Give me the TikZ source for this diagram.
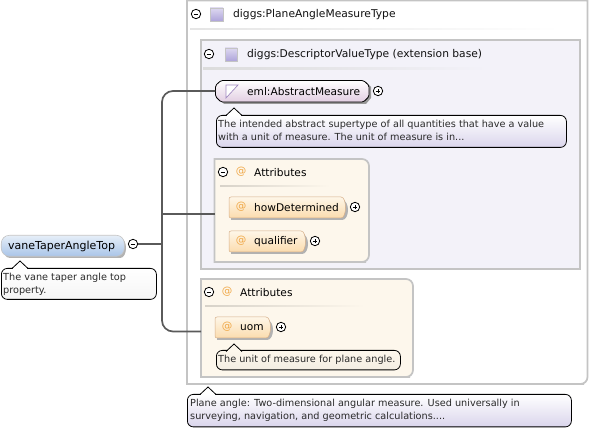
\documentclass[tikz,border=0pt]{standalone}
\usepackage{fontspec}
\setmainfont{DejaVu Sans}
\usetikzlibrary{calc}
\definecolor{frameg}{HTML}{C4C4C4}
\definecolor{conn}{HTML}{5A5A5A}
\definecolor{typefill}{HTML}{F3F2F9}
\definecolor{attrfill}{HTML}{FDF7EC}
\definecolor{ink}{HTML}{111111}
\definecolor{notetext}{HTML}{2A2A2A}
\definecolor{ato}{HTML}{F0A848}
\definecolor{lav}{HTML}{DAD5EC}
\definecolor{sqtop}{HTML}{DDD8F0}
\definecolor{sqlow}{HTML}{AEA4DA}
\definecolor{pilllow}{HTML}{FBDCAE}
\definecolor{pilltop}{HTML}{FEF6E8}
\definecolor{abslow}{HTML}{E2CEE2}
\definecolor{roottop}{HTML}{E6EEF8}
\definecolor{rootlow}{HTML}{A9C4E8}
\definecolor{iconv}{HTML}{A088C0}
\tikzset{
  frame/.style={draw=frameg,line width=1.7pt},
  lbl/.style={font=\fontsize{10.7}{12}\selectfont,text=ink,inner sep=0pt,anchor=west,yshift=-1pt},
  lblb/.style={font=\fontsize{10.6}{12}\selectfont,text=black,inner sep=0pt,anchor=west,yshift=-1pt},
  note/.style={font=\fontsize{9.7}{13.4}\selectfont,text=notetext,inner sep=0pt,anchor=north west,align=left},
  tog/.style={circle,draw=black,line width=0.8pt,fill=white,minimum size=9.4pt,inner sep=0pt},
  atsign/.style={font=\fontsize{10.5}{12}\selectfont,text=ato,inner sep=0pt},
  sq/.style={draw=frameg,line width=0.6pt,top color=sqtop,bottom color=sqlow},
  notebox/.style={draw=black,line width=0.8pt,rounded corners=6pt},
  wire/.style={draw=conn,line width=1.7pt},
}
\newcommand{\togglemark}[2]{\draw[black,line width=0.7pt] ($(#1)+(-2.4pt,0)$) -- ($(#1)+(2.4pt,0)$);
  \ifnum#2=1 \draw[black,line width=0.7pt] ($(#1)+(0,-2.4pt)$) -- ($(#1)+(0,2.4pt)$);\fi}
\newcommand{\pill}[4]{% x1 x2 ytop ybottom: orange attribute pill
  \fill[black!30] (#1+2,#3+3) -- (#2-5,#3+3) .. controls (#2+3,#3+3) and (#2+3,#4+2) .. (#2-5,#4+2) -- (#1+2,#4+2) -- cycle;
  \shade[top color=pilltop,bottom color=pilllow,draw=frameg!70!orange,line width=0.5pt,rounded corners=2pt]
   (#1,#3) -- (#2-8,#3) .. controls (#2,#3) and (#2,#4) .. (#2-8,#4) -- (#1,#4) -- cycle;}
\newcommand{\ptr}[3]{% x, y of pointer tip, colour under it: callout pointer
  \fill[#3] (#1-8,#2+8.5) -- (#1,#2) -- (#1+8,#2+8.5) -- cycle;
  \draw[black,line width=0.8pt] (#1-8,#2+7.5) -- (#1,#2) -- (#1+8,#2+7.5);}
\newcommand{\groupbox}[5]{% x1 y1 x2 y2 fill: left corners square, right corners rounded
  \path[frame,draw,fill=#5] (#1,#2) [rounded corners=7pt] -- (#3,#2) -- (#3,#4) -- (#3-10,#4) [sharp corners] -- (#1,#4) -- cycle;}
\begin{document}
\begin{tikzpicture}[x=1pt,y=-1pt]
\useasboundingbox (0,0) rectangle (590,430);
\fill[white] (0,0) rectangle (590,430);

% outer type frame
\path[frame,draw,fill=white] (187,0.5) -- (587.5,0.5) [rounded corners=7pt] -- (587.5,384) -- (577,384) [sharp corners] -- (187,384) -- cycle;
\fill[left color=frameg!45,right color=white] (190,28.5) rectangle (560,30);
\node[tog] (t0) at (196,14) {}; \togglemark{t0}{0}
\draw[sq] (210,8) rectangle (223,21);
\node[lbl] (n0) at (233,14) {diggs:PlaneAngleMeasureType};

% extension box
\path[frame,draw,fill=typefill] (201,40) rectangle (580,269);
\fill[left color=frameg!60,right color=typefill] (203,68) rectangle (488,69.5);
\node[tog] (t1) at (209,54) {}; \togglemark{t1}{0}
\draw[sq] (225,48) rectangle (237,61);
\node[lbl] (n1) at (247,54) {diggs:DescriptorValueType (extension base)};

% attributes box 1
\groupbox{214.5}{159}{369}{262}{attrfill}
\fill[left color=attrfill!85!black,right color=attrfill] (220,185.5) rectangle (330,186.5);
\node[tog] (t2) at (223,172) {}; \togglemark{t2}{0}
\node[atsign] (a2) at (241,172) {@};
\node[lblb] (n2) at (254,172) {Attributes};
\coordinate (attrA) at (214.5,214);

% attributes box 2
\groupbox{201}{279}{413}{377}{attrfill}
\fill[left color=attrfill!85!black,right color=attrfill] (205,305.5) rectangle (365,306.5);
\node[tog] (t3) at (209,292) {}; \togglemark{t3}{0}
\node[atsign] (a3) at (227,292) {@};
\node[lblb] (n3) at (240,292) {Attributes};
\coordinate (attrB) at (201,331.5);

% abstract measure
\fill[black!40] (218,87) -- (224,82) -- (366,82) -- (371,87) -- (371,98) -- (366,104) -- (224,104) -- (218,98) -- cycle;
\shade[top color=white,bottom color=abslow,draw=black,line width=0.8pt,rounded corners=1.5pt]
  (215.5,85.5) -- (221,80.5) -- (363.5,80.5) -- (369,85.5) -- (369,96.5) -- (363.5,102) -- (221,102) -- (215.5,96.5) -- cycle;
\node[inner sep=0pt,minimum size=0pt] (absin) at (215.5,91) {};
\draw[iconv,line width=0.7pt,fill=white] (226,85) -- (238,85) -- (226,98) -- cycle;
\node[lblb] (n4) at (247,91) {eml:AbstractMeasure};
\node[tog] (t4) at (378,91) {}; \togglemark{t4}{1}

% callout of abstract measure
\node[notebox,top color=white,bottom color=lav,draw=black,anchor=north west,minimum width=350pt,minimum height=32pt,inner sep=0pt] (c4) at (216,115) {};
\ptr{234}{108}{white}
\node[note] at (218,120) {The intended abstract supertype of all quantities that have a value\\with a unit of measure. The unit of measure is in...};

% attributes
\pill{229}{347}{197}{218}
\node[atsign] (a5) at (241,207) {@};
\node[lblb] (n5) at (254,207) {howDetermined};
\node[tog] (t5) at (355,207) {}; \togglemark{t5}{1}
\pill{229}{307}{231}{252}
\node[atsign] (a6) at (241,241) {@};
\node[lblb] (n6) at (254,241) {qualifier};
\node[tog] (t6) at (315,241) {}; \togglemark{t6}{1}
\pill{215}{272}{317}{338}
\node[atsign] (a7) at (227,327) {@};
\node[lblb] (n7) at (240,327) {uom};
\node[tog] (t7) at (281,327) {}; \togglemark{t7}{1}

% uom callout
\node[notebox,top color=attrfill,bottom color=black!4!attrfill,draw=black,anchor=north west,minimum width=184pt,minimum height=19.5pt,inner sep=0pt] (c7) at (216,350) {};
\ptr{234}{344}{attrfill}
\node[note] at (218,354.5) {The unit of measure for plane angle.};

% bottom callout
\node[notebox,top color=white,bottom color=lav,draw=black,anchor=north west,minimum width=384pt,minimum height=32.5pt,inner sep=0pt] (c0) at (187,394) {};
\ptr{208}{387}{white}
\node[note] at (190,399) {Plane angle: Two-dimensional angular measure. Used universally in\\surveying, navigation, and geometric calculations....};

% root element
\fill[black!30] (3,238) -- (120,238) .. controls (128,238) and (128,258) .. (120,258) -- (10,258) .. controls (1,258) and (1,238) .. (10,238) -- cycle;
\node[draw=frameg,line width=0.6pt,rounded corners=8pt,top color=roottop,bottom color=rootlow,minimum width=123pt,minimum height=21pt,inner sep=0pt,anchor=north west] (root) at (1,235) {};
\node[lblb,font=\fontsize{11}{12}\selectfont] (rootlbl) at (8,245) {vaneTaperAngleTop};
\node[tog] (rt) at (133,244) {}; \togglemark{rt}{0}

% root callout
\node[notebox,top color=white,bottom color=black!4,draw=black,anchor=north west,minimum width=155pt,minimum height=31pt,inner sep=0pt] (c8) at (1,268) {};
\ptr{20}{261}{white}
\node[note] at (3,272.5) {The vane taper angle top\\property.};

% connectors
\coordinate (trunk) at (162,244);
\draw[wire] (rt.east) -- (trunk);
\draw[wire,rounded corners=11pt] (absin.west) -- (162,91) -- (trunk);
\draw[wire,rounded corners=11pt] (trunk) -- (162,331.5) -- (attrB);
\draw[wire] (162,214) -- (attrA);
\end{tikzpicture}
\end{document}
